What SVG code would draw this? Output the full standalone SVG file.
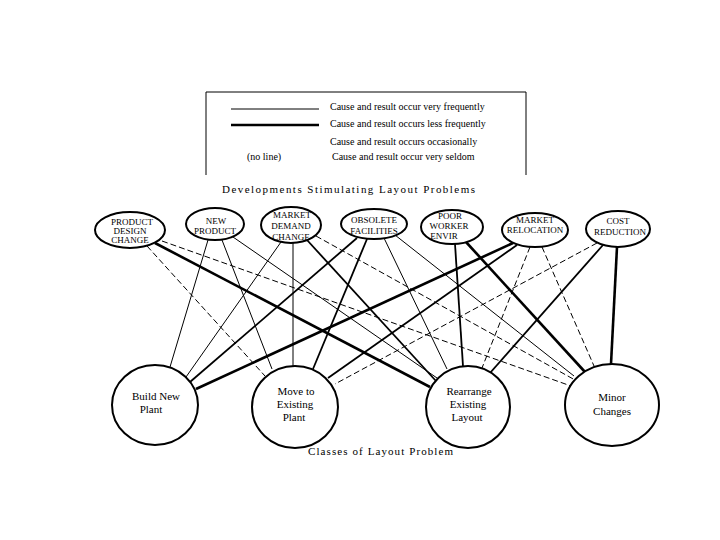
<svg xmlns="http://www.w3.org/2000/svg" width="720" height="540" viewBox="0 0 720 540">
<style>
text{font-family:"Liberation Serif","DejaVu Serif",serif;fill:#000}
.lg{font-size:10px}
.tn{font-size:9px;text-anchor:middle}
.bn{font-size:11px;text-anchor:middle}
.node{fill:#fff;stroke:#000;stroke-width:2}
.thin{stroke:#000;stroke-width:1;fill:none}
.med{stroke:#000;stroke-width:1.8;fill:none}
.thick{stroke:#000;stroke-width:2.6;fill:none}
.dash{stroke:#000;stroke-width:1;fill:none;stroke-dasharray:6 3}
</style>
<rect width="720" height="540" fill="#fff"/>
<g id="legend">
<path d="M206,175 V92 H526 V175" fill="none" stroke="#000" stroke-width="1"/>
<line x1="231" y1="109" x2="319" y2="109" stroke="#000" stroke-width="1"/>
<line x1="231" y1="125" x2="319" y2="125" stroke="#000" stroke-width="2.4"/>
<text class="lg" x="330" y="110">Cause and result occur very frequently</text>
<text class="lg" x="330" y="127">Cause and result occurs less frequently</text>
<text class="lg" x="330" y="145">Cause and result occurs occasionally</text>
<text class="lg" x="247" y="160">(no line)</text>
<text class="lg" x="332" y="160">Cause and result occur very seldom</text>
</g>
<text x="222" y="193" font-size="11" textLength="253" lengthAdjust="spacing">Developments Stimulating Layout Problems</text>
<g id="connectors">
<line class="dash" x1="147" y1="246" x2="265" y2="376"/>
<line class="thick" x1="155" y1="243" x2="430" y2="387"/>
<line class="dash" x1="162" y1="241" x2="571" y2="386"/>
<line class="thin" x1="208" y1="240" x2="170" y2="367"/>
<line class="thin" x1="222" y1="240" x2="272" y2="369"/>
<line class="thin" x1="233" y1="237" x2="437" y2="378"/>
<line class="thin" x1="281" y1="242" x2="186" y2="377"/>
<line class="thin" x1="293" y1="243" x2="293" y2="366"/>
<line class="med" x1="307" y1="240" x2="436" y2="381"/>
<line class="dash" x1="316" y1="236" x2="575" y2="380"/>
<line class="med" x1="357" y1="238" x2="190" y2="382"/>
<line class="med" x1="367" y1="239" x2="313" y2="369"/>
<line class="thin" x1="384" y1="238" x2="447" y2="369"/>
<line class="thin" x1="395" y1="235" x2="574" y2="376"/>
<line class="med" x1="455" y1="244" x2="463" y2="366"/>
<line class="thick" x1="466" y1="242" x2="585" y2="372"/>
<line class="thick" x1="513" y1="243" x2="196" y2="389"/>
<line class="med" x1="517" y1="245" x2="328" y2="378"/>
<line class="dash" x1="530" y1="247" x2="482" y2="368"/>
<line class="dash" x1="542" y1="247" x2="594" y2="366"/>
<line class="dash" x1="597" y1="243" x2="335" y2="384"/>
<line class="med" x1="603" y1="245" x2="490" y2="373"/>
<line class="thick" x1="617" y1="247" x2="611" y2="364"/>
</g>
<g id="n-pdc"><ellipse class="node" cx="130" cy="230" rx="35" ry="18"/>
<text class="tn" x="132" y="225">PRODUCT</text><text class="tn" x="130" y="234">DESIGN</text><text class="tn" x="130" y="243">CHANGE</text></g>
<g id="n-new"><ellipse class="node" cx="215" cy="224" rx="29" ry="16"/>
<text class="tn" x="216" y="224">NEW</text><text class="tn" x="215" y="234">PRODUCT</text></g>
<g id="n-mdc"><ellipse class="node" cx="291" cy="225" rx="30" ry="18"/>
<text class="tn" x="292" y="218">MARKET</text><text class="tn" x="291" y="229">DEMAND</text><text class="tn" x="291" y="240">CHANGE</text></g>
<g id="n-obs"><ellipse class="node" cx="374" cy="224" rx="33" ry="15"/>
<text class="tn" x="374" y="223">OBSOLETE</text><text class="tn" x="374" y="234">FACILITIES</text></g>
<g id="n-poor"><ellipse class="node" cx="452" cy="227" rx="31" ry="17"/>
<text class="tn" x="450" y="219">POOR</text><text class="tn" x="449" y="229">WORKER</text><text class="tn" x="444" y="239">ENVIR</text></g>
<g id="n-mr"><ellipse class="node" cx="535" cy="230" rx="33" ry="17"/>
<text class="tn" x="535" y="223">MARKET</text><text class="tn" x="535" y="233">RELOCATION</text></g>
<g id="n-cost"><ellipse class="node" cx="618" cy="229" rx="32" ry="18"/>
<text class="tn" x="618" y="224">COST</text><text class="tn" x="620" y="235">REDUCTION</text></g>
<g id="n-build"><ellipse class="node" cx="155" cy="405" rx="43" ry="40"/>
<text class="bn" x="156" y="400">Build New</text><text class="bn" x="151" y="413">Plant</text></g>
<g id="n-move"><ellipse class="node" cx="295" cy="407" rx="43" ry="41"/>
<text class="bn" x="296" y="395">Move to</text><text class="bn" x="295" y="408">Existing</text><text class="bn" x="294" y="421">Plant</text></g>
<g id="n-rearr"><ellipse class="node" cx="468" cy="407" rx="42" ry="41"/>
<text class="bn" x="469" y="395">Rearrange</text><text class="bn" x="468" y="408">Existing</text><text class="bn" x="467" y="421">Layout</text></g>
<g id="n-minor"><ellipse class="node" cx="612" cy="405" rx="47" ry="41"/>
<text class="bn" x="612" y="401">Minor</text><text class="bn" x="612" y="415">Changes</text></g>
<text x="308" y="455" font-size="11" textLength="145" lengthAdjust="spacing">Classes of Layout Problem</text>
</svg>
